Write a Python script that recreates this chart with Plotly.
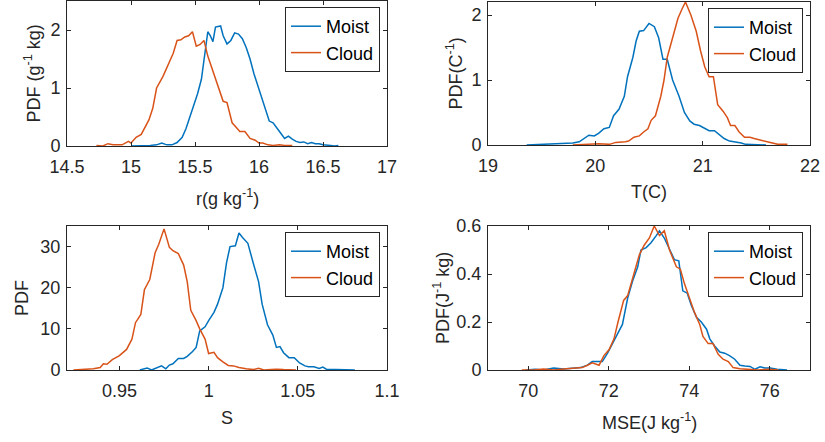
import plotly.graph_objects as go

# r (g/kg) PDFs
r_moist_x = [15.00, 15.05, 15.10, 15.15, 15.20, 15.24, 15.28, 15.32, 15.36, 15.40, 15.43, 15.46,
             15.49, 15.52, 15.55, 15.57, 15.59, 15.60, 15.62, 15.64, 15.66, 15.70, 15.72, 15.75,
             15.78, 15.81, 15.84, 15.87, 15.90, 15.93, 15.96, 15.99, 16.02, 16.05, 16.08, 16.11,
             16.14, 16.17, 16.20, 16.23, 16.26, 16.29, 16.32, 16.35, 16.38, 16.41, 16.44, 16.47,
             16.50, 16.53, 16.56, 16.59, 16.62]
r_moist_y = [0.00, 0.00, 0.00, 0.01, 0.02, 0.05, 0.02, 0.02, 0.06, 0.15, 0.30, 0.50,
             0.70, 0.90, 1.15, 1.50, 1.80, 1.97, 1.90, 1.80, 2.05, 2.07, 1.90, 1.76,
             1.82, 1.95, 1.93, 1.85, 1.70, 1.50, 1.25, 1.05, 0.85, 0.65, 0.43, 0.40,
             0.30, 0.22, 0.13, 0.17, 0.12, 0.08, 0.06, 0.07, 0.04, 0.06, 0.04, 0.04,
             0.02, 0.02, 0.01, 0.00, 0.01]
r_cloud_x = [14.73, 14.78, 14.82, 14.86, 14.93, 14.98, 15.00, 15.04, 15.08, 15.14, 15.17, 15.20,
             15.25, 15.29, 15.33, 15.36, 15.39, 15.42, 15.45, 15.48, 15.51, 15.54, 15.57, 15.60,
             15.64, 15.68, 15.72, 15.75, 15.79, 15.83, 15.85, 15.89, 15.93, 15.97, 16.00, 16.03,
             16.07, 16.11, 16.16, 16.20, 16.26]
r_cloud_y = [0.01, 0.00, 0.04, 0.02, 0.02, 0.08, 0.05, 0.15, 0.20, 0.45, 0.65, 1.00,
             1.20, 1.40, 1.60, 1.82, 1.83, 1.88, 1.90, 1.97, 1.72, 1.75, 1.82, 1.55,
             1.30, 1.05, 0.77, 0.75, 0.40, 0.30, 0.25, 0.25, 0.13, 0.10, 0.05, 0.05,
             0.02, 0.01, 0.02, 0.01, 0.01]

# T (C) PDFs
t_moist_x = [19.36, 19.54, 19.69, 19.79, 19.85, 19.89, 19.94, 19.99, 20.03, 20.08, 20.13, 20.17,
             20.22, 20.27, 20.30, 20.35, 20.38, 20.41, 20.45, 20.50, 20.55, 20.59, 20.63, 20.67,
             20.72, 20.78, 20.83, 20.88, 20.92, 20.97, 21.02, 21.06, 21.11, 21.16, 21.20, 21.25,
             21.30, 21.36, 21.40, 21.50, 21.59]
t_moist_y = [0.00, 0.01, 0.02, 0.03, 0.05, 0.10, 0.15, 0.14, 0.18, 0.25, 0.27, 0.45,
             0.55, 0.75, 1.05, 1.35, 1.60, 1.75, 1.76, 1.87, 1.82, 1.65, 1.32, 1.32,
             1.00, 0.75, 0.50, 0.37, 0.32, 0.30, 0.25, 0.22, 0.22, 0.15, 0.10, 0.06,
             0.05, 0.03, 0.01, 0.00, 0.00]
t_cloud_x = [19.79, 19.91, 20.03, 20.13, 20.19, 20.28, 20.31, 20.36, 20.41, 20.45, 20.49, 20.52,
             20.56, 20.61, 20.64, 20.67, 20.72, 20.77, 20.81, 20.84, 20.89, 20.94, 20.98, 21.02,
             21.06, 21.10, 21.14, 21.19, 21.23, 21.26, 21.30, 21.34, 21.39, 21.44, 21.48, 21.55,
             21.62, 21.70, 21.79]
t_cloud_y = [0.00, 0.01, 0.02, 0.01, 0.04, 0.05, 0.06, 0.12, 0.14, 0.20, 0.25, 0.38,
             0.45, 0.75, 1.00, 1.35, 1.65, 1.95, 2.10, 2.20, 2.00, 1.75, 1.45, 1.20,
             1.05, 1.05, 0.62, 0.52, 0.42, 0.30, 0.30, 0.20, 0.12, 0.12, 0.10, 0.07,
             0.04, 0.01, 0.01]

# S PDFs
s_moist_x = [0.9614, 0.9655, 0.9680, 0.9710, 0.9736, 0.9760, 0.9780, 0.9800, 0.9830, 0.9860,
             0.9880, 0.9910, 0.9930, 0.9950, 0.9980, 1.0000, 1.0030, 1.0050, 1.0080, 1.0100,
             1.0120, 1.0150, 1.0170, 1.0190, 1.0220, 1.0250, 1.0280, 1.0300, 1.0330, 1.0360,
             1.0380, 1.0400, 1.0420, 1.0450, 1.0480, 1.0510, 1.0540, 1.0560, 1.0590, 1.0620,
             1.0640, 1.0660, 1.0710, 1.0760, 1.0820]
s_moist_y = [0.0, 0.5, 0.0, 0.5, 1.0, 0.3, 1.2, 1.5, 2.8, 2.8,
             3.3, 4.5, 5.5, 9.5, 10.5, 12.0, 14.0, 16.0, 20.0, 26.0,
             30.0, 30.2, 33.3, 32.2, 30.8, 26.0, 21.5, 16.0, 11.0, 8.5,
             5.5, 5.7, 4.2, 3.0, 3.0, 1.7, 1.0, 0.8, 0.8, 0.4,
             0.7, 0.2, 0.1, 0.0, 0.0]
s_cloud_x = [0.9242, 0.9298, 0.9354, 0.9392, 0.9410, 0.9430, 0.9460, 0.9500, 0.9540, 0.9570,
             0.9590, 0.9620, 0.9640, 0.9670, 0.9700, 0.9720, 0.9750, 0.9780, 0.9800, 0.9830,
             0.9860, 0.9880, 0.9900, 0.9930, 0.9950, 0.9980, 1.0000, 1.0030, 1.0050, 1.0080,
             1.0110, 1.0140, 1.0170, 1.0210, 1.0250, 1.0280, 1.0310, 1.0350, 1.0380, 1.0420,
             1.0490]
s_cloud_y = [0.0, 0.1, 0.3, 0.6, 1.5, 1.4, 2.5, 3.5, 5.0, 7.5,
             11.5, 13.5, 19.5, 22.0, 28.5, 30.5, 34.3, 29.8, 29.0, 28.3,
             25.5, 21.5, 14.5, 12.0, 10.0, 7.5, 4.0, 4.3, 3.0, 2.0,
             1.1, 1.0, 0.6, 0.3, 0.1, 0.4, 0.0, 0.1, 0.2, 0.1,
             0.0]

# MSE PDFs
m_moist_x = [69.93, 70.18, 70.38, 70.63, 70.88, 71.13, 71.30, 71.47, 71.59, 71.72, 71.84, 71.97,
             72.09, 72.22, 72.34, 72.47, 72.59, 72.72, 72.80, 72.93, 73.05, 73.18, 73.26, 73.38,
             73.51, 73.63, 73.74, 73.84, 73.95, 74.05, 74.18, 74.30, 74.43, 74.51, 74.63, 74.76,
             74.88, 75.00, 75.13, 75.26, 75.38, 75.51, 75.63, 75.76, 75.88, 76.01, 76.18, 76.43]
m_moist_y = [0.000, 0.003, 0.000, 0.008, 0.004, 0.007, 0.010, 0.020, 0.035, 0.035, 0.035, 0.070,
             0.110, 0.150, 0.190, 0.300, 0.370, 0.430, 0.500, 0.510, 0.530, 0.560, 0.580, 0.550,
             0.500, 0.460, 0.455, 0.330, 0.320, 0.270, 0.220, 0.200, 0.170, 0.130, 0.100, 0.075,
             0.070, 0.060, 0.045, 0.020, 0.017, 0.015, 0.003, 0.013, 0.008, 0.008, 0.003, 0.000]
m_cloud_x = [69.84, 70.13, 70.38, 70.63, 70.88, 71.22, 71.34, 71.47, 71.59, 71.76, 71.88, 72.01,
             72.13, 72.23, 72.37, 72.47, 72.59, 72.76, 72.88, 73.01, 73.13, 73.26, 73.38, 73.51,
             73.68, 73.78, 73.88, 74.01, 74.13, 74.26, 74.34, 74.47, 74.59, 74.72, 74.84, 74.97,
             75.09, 75.26, 75.47, 75.72, 75.97, 76.22]
m_cloud_y = [0.000, 0.000, 0.004, 0.000, 0.004, 0.008, 0.010, 0.020, 0.030, 0.020, 0.060, 0.085,
             0.130, 0.200, 0.290, 0.310, 0.380, 0.480, 0.520, 0.550, 0.600, 0.560, 0.580, 0.500,
             0.430, 0.420, 0.360, 0.300, 0.240, 0.190, 0.140, 0.110, 0.110, 0.065, 0.045, 0.035,
             0.010, 0.005, 0.003, 0.000, 0.003, 0.000]

series_names = ["Moist", "Cloud"]
x_titles = ["r(g kg<sup>-1</sup>)", "T(C)", "S", "MSE(J kg<sup>-1</sup>)"]
y_titles = ["PDF (g<sup>-1</sup> kg)", "PDF(C<sup>-1</sup>)", "PDF", "PDF(J<sup>-1</sup> kg)"]

BLUE = "#0072BD"
ORANGE = "#D95319"
AXC = "#262626"
FONT = "Liberation Sans, Arial, sans-serif"

panels = [
    (r_moist_x, r_moist_y, r_cloud_x, r_cloud_y),
    (t_moist_x, t_moist_y, t_cloud_x, t_cloud_y),
    (s_moist_x, s_moist_y, s_cloud_x, s_cloud_y),
    (m_moist_x, m_moist_y, m_cloud_x, m_cloud_y),
]

W, H = 825, 442
# panel boxes in pixels: left, right, top, bottom
boxes = [(67, 387, 1, 146), (488, 810, 2, 145), (67, 387, 226, 370), (488, 810, 226, 370)]
xranges = [[14.5, 17], [19, 22], [0.9206, 1.1], [69, 77]]
yranges = [[0, 2.5], [0, 2.2], [0, 35], [0, 0.6]]
xticks = [[14.5, 15, 15.5, 16, 16.5, 17], [19, 20, 21, 22], [0.95, 1, 1.05, 1.1], [70, 72, 74, 76]]
yticks = [[0, 1, 2], [0, 1, 2], [0, 10, 20, 30], [0, 0.2, 0.4, 0.6]]
ytitle_x = [33, 455, 22, 441]
xtitle_y = [198, 192, 418, 421]

fig = go.Figure()
annotations = []

for i, (mx, my, cx, cy) in enumerate(panels):
    n = "" if i == 0 else str(i + 1)
    leg = "legend" + n
    fig.add_trace(go.Scatter(x=mx, y=my, mode="lines", name=series_names[0],
                             line=dict(color=BLUE, width=1.5), xaxis="x" + n, yaxis="y" + n,
                             legend=leg))
    fig.add_trace(go.Scatter(x=cx, y=cy, mode="lines", name=series_names[1],
                             line=dict(color=ORANGE, width=1.5), xaxis="x" + n, yaxis="y" + n,
                             legend=leg))
    l, r, t, b = boxes[i]
    axis_common = dict(showline=True, mirror="ticks", linecolor=AXC, linewidth=1,
                       ticks="inside", ticklen=4, tickcolor=AXC, showgrid=False,
                       zeroline=False, automargin=False,
                       tickfont=dict(size=18, color=AXC, family=FONT))
    fig.layout["xaxis" + n] = dict(domain=[l / W, r / W], range=xranges[i],
                                   tickvals=xticks[i], anchor="y" + n,
                                   ticklabelstandoff=4, **axis_common)
    fig.layout["yaxis" + n] = dict(domain=[1 - b / H, 1 - t / H], range=yranges[i],
                                   tickvals=yticks[i], anchor="x" + n,
                                   ticklabelstandoff=2, **axis_common)
    fig.layout[leg] = dict(x=(r - 7) / W, y=1 - (t + 6) / H, xanchor="right", yanchor="top",
                           bordercolor=AXC, borderwidth=1, bgcolor="white",
                           font=dict(size=18, color="black", family=FONT),
                           itemwidth=30, tracegroupgap=0)
    annotations.append(dict(text=x_titles[i], x=(l + r) / 2 / W, y=1 - xtitle_y[i] / H,
                            xref="paper", yref="paper", showarrow=False,
                            xanchor="center", yanchor="middle",
                            font=dict(size=18, color=AXC, family=FONT)))
    annotations.append(dict(text=y_titles[i], x=ytitle_x[i] / W, y=1 - (t + b) / 2 / H,
                            xref="paper", yref="paper", showarrow=False, textangle=-90,
                            xanchor="center", yanchor="middle",
                            font=dict(size=18, color=AXC, family=FONT)))

fig.update_layout(width=W, height=H, margin=dict(l=0, r=0, t=0, b=0),
                  paper_bgcolor="white", plot_bgcolor="white",
                  annotations=annotations, showlegend=True)

fig.write_html("out.html", config={"displayModeBar": False},
               post_script="document.body.style.margin='0px';")
